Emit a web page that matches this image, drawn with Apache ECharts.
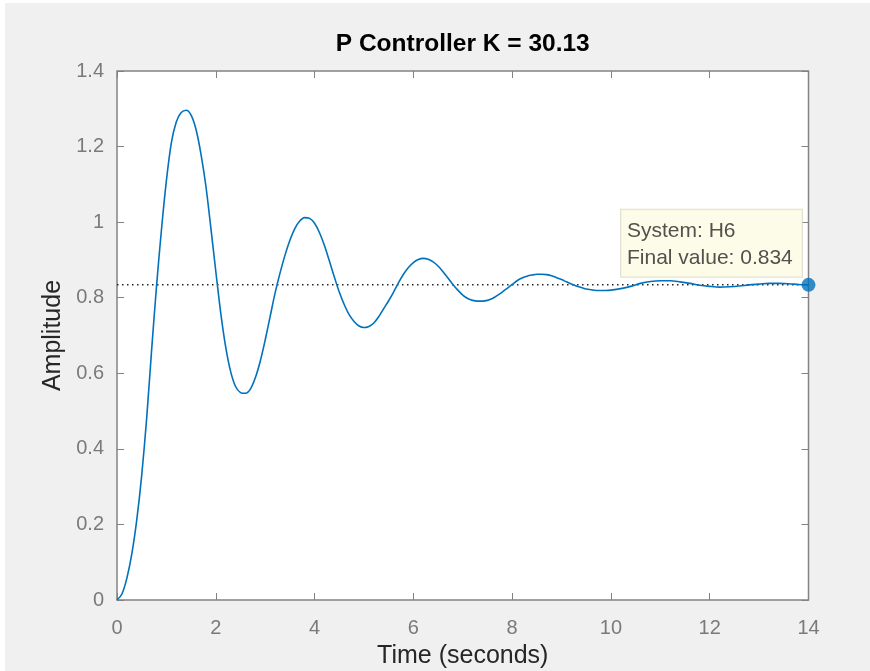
<!DOCTYPE html>
<html>
<head>
<meta charset="utf-8">
<title>P Controller K = 30.13</title>
<script src="https://cdn.jsdelivr.net/npm/echarts@6/dist/echarts.min.js"></script>
<style>
  html, body { margin: 0; padding: 0; background: #ffffff; }
  #chart { width: 870px; height: 671px; }
</style>
</head>
<body>
<div id="chart"></div>
<script>
// Step response of the closed loop with proportional gain K = 30.13
const timeSeconds = [
  0.0, 0.1, 0.2, 0.3, 0.4, 0.5, 0.6, 0.7, 0.8, 0.9,
  1.0, 1.1, 1.2, 1.3, 1.4, 1.5, 1.6, 1.7, 1.8, 1.9,
  2.0, 2.1, 2.2, 2.3, 2.4, 2.5, 2.6, 2.7, 2.8, 2.9,
  3.0, 3.1, 3.2, 3.3, 3.4, 3.5, 3.6, 3.7, 3.8, 3.9,
  4.0, 4.1, 4.2, 4.3, 4.4, 4.5, 4.6, 4.7, 4.8, 4.9,
  5.0, 5.1, 5.2, 5.3, 5.4, 5.5, 5.6, 5.7, 5.8, 5.9,
  6.0, 6.1, 6.2, 6.3, 6.4, 6.5, 6.6, 6.7, 6.8, 6.9,
  7.0, 7.1, 7.2, 7.3, 7.4, 7.5, 7.6, 7.7, 7.8, 7.9,
  8.0, 8.1, 8.2, 8.3, 8.4, 8.5, 8.6, 8.7, 8.8, 8.9,
  9.0, 9.1, 9.2, 9.3, 9.4, 9.5, 9.6, 9.7, 9.8, 9.9,
  10.0, 10.2, 10.4, 10.6, 10.8, 11.0, 11.2, 11.4, 11.6, 11.8,
  12.0, 12.2, 12.4, 12.6, 12.8, 13.0, 13.2, 13.4, 13.6, 13.8,
  14.0
];
const amplitude = [
  0, 0.016, 0.058, 0.122, 0.212, 0.33, 0.48, 0.66, 0.83, 0.98,
  1.11, 1.21, 1.265, 1.29, 1.296, 1.283, 1.245, 1.18, 1.095, 0.985,
  0.87, 0.76, 0.67, 0.605, 0.565, 0.549, 0.547, 0.558, 0.588, 0.632,
  0.688, 0.75, 0.812, 0.865, 0.912, 0.952, 0.983, 1.003, 1.012, 1.01,
  0.997, 0.972, 0.938, 0.897, 0.855, 0.815, 0.782, 0.755, 0.737, 0.725,
  0.721, 0.724, 0.733, 0.75, 0.771, 0.792, 0.815, 0.84, 0.862, 0.88,
  0.893, 0.901, 0.904, 0.902, 0.895, 0.884, 0.869, 0.852, 0.835, 0.82,
  0.807, 0.798, 0.793, 0.791, 0.791, 0.793, 0.798, 0.806, 0.815, 0.825,
  0.835, 0.845, 0.852, 0.857, 0.86, 0.862, 0.862, 0.861, 0.858, 0.853,
  0.848, 0.842, 0.836, 0.831, 0.827, 0.823, 0.821, 0.819, 0.819, 0.819,
  0.82, 0.824, 0.83, 0.838, 0.843, 0.845, 0.845, 0.842, 0.838, 0.833,
  0.83, 0.828, 0.829, 0.831, 0.834, 0.836, 0.838, 0.838, 0.837, 0.835,
  0.834
];
const systemName = 'H6';
const finalValue = 0.834;
const finalTime = 14;
const xTicks = [0, 2, 4, 6, 8, 10, 12, 14];
const yTicks = [0, 0.2, 0.4, 0.6, 0.8, 1, 1.2, 1.4];

const responsePoints = timeSeconds.map((t, i) => [t, amplitude[i]]);
const steadyStateLine = [[0, finalValue], [finalTime, finalValue]];

const axisGray = '#828282';
const tickGray = '#7a7a7a';
const fontFamily = '"Liberation Sans", Arial, Helvetica, sans-serif';

const xRange = { min: xTicks[0], max: xTicks[xTicks.length - 1], interval: 2 };
const yRange = { min: yTicks[0], max: yTicks[yTicks.length - 1], interval: 0.2 };

// Tick-only axes that put short inward ticks on each side of the box
function tickOnlyAxis(range, position) {
  return Object.assign({
    type: 'value',
    position,
    axisLine: { show: false, onZero: false },
    axisLabel: { show: false },
    splitLine: { show: false },
    axisTick: { show: true, inside: true, length: 7, lineStyle: { color: axisGray, width: 1 } }
  }, range);
}

const chart = echarts.init(document.getElementById('chart'), null, { renderer: 'canvas' });

chart.setOption({
  backgroundColor: '#ffffff',
  animation: false,
  graphic: [{
    type: 'rect',
    z: -10,
    silent: true,
    shape: { x: 5, y: 3, width: 865, height: 668 },
    style: { fill: '#f0f0f0' }
  }],
  title: {
    text: 'P Controller K = 30.13',
    left: 462.75,
    top: 32,
    padding: 0,
    textAlign: 'center',
    textStyle: { fontFamily, fontSize: 24.5, fontWeight: 'bold', color: '#000000' }
  },
  grid: {
    left: 117,
    right: 61.5,
    top: 71,
    bottom: 71,
    outerBoundsMode: 'none',
    containLabel: false,
    show: true,
    backgroundColor: '#ffffff',
    borderColor: axisGray,
    borderWidth: 1.5
  },
  xAxis: [Object.assign({
    type: 'value',
    position: 'bottom',
    name: 'Time (seconds)',
    nameLocation: 'middle',
    nameGap: 56,
    nameTextStyle: { fontFamily, fontSize: 25, color: '#262626', verticalAlign: 'middle' },
    axisLine: { show: false, onZero: false },
    splitLine: { show: false },
    axisTick: { show: false },
    axisLabel: {
      fontFamily, fontSize: 20, color: tickGray, margin: 18,
      formatter: v => String(v)
    }
  }, xRange),
    tickOnlyAxis(xRange, 'bottom'),
    tickOnlyAxis(xRange, 'top')
  ],
  yAxis: [Object.assign({
    type: 'value',
    position: 'left',
    name: 'Amplitude',
    nameLocation: 'middle',
    nameGap: 59,
    nameRotate: 90,
    nameTextStyle: { fontFamily, fontSize: 25, color: '#262626', verticalAlign: 'middle' },
    axisLine: { show: false, onZero: false },
    splitLine: { show: false },
    axisTick: { show: false },
    axisLabel: {
      fontFamily, fontSize: 20, color: tickGray, margin: 13,
      formatter: v => String(Math.round(v * 10) / 10)
    }
  }, yRange),
    tickOnlyAxis(yRange, 'left'),
    tickOnlyAxis(yRange, 'right')
  ],
  series: [{
    name: 'Steady state',
    type: 'line',
    data: steadyStateLine,
    symbol: 'none',
    silent: true,
    z: 2,
    lineStyle: { color: '#262626', width: 1.5, type: [1.5, 3.5] }
  }, {
    name: systemName,
    type: 'line',
    data: responsePoints,
    symbol: 'none',
    smooth: 0.3,
    clip: false,
    z: 3,
    lineStyle: { color: '#0072BD', width: 1.6 }
  }, {
    name: 'Final value',
    type: 'scatter',
    data: [[finalTime, finalValue]],
    symbol: 'circle',
    symbolSize: 14,
    clip: false,
    z: 5,
    itemStyle: { color: '#0072BD' },
    label: {
      show: true,
      position: [-180.5, -68],
      align: 'left',
      verticalAlign: 'top',
      formatter: () => 'System: ' + systemName + '\nFinal value: ' + finalValue,
      fontFamily,
      fontSize: 21,
      color: '#262626',
      lineHeight: 27,
      width: 169,
      padding: [8, 6, 5, 6],
      backgroundColor: '#fbfbe4',
      borderColor: '#d8d8c8',
      borderWidth: 1
    }
  }]
});
</script>
</body>
</html>
